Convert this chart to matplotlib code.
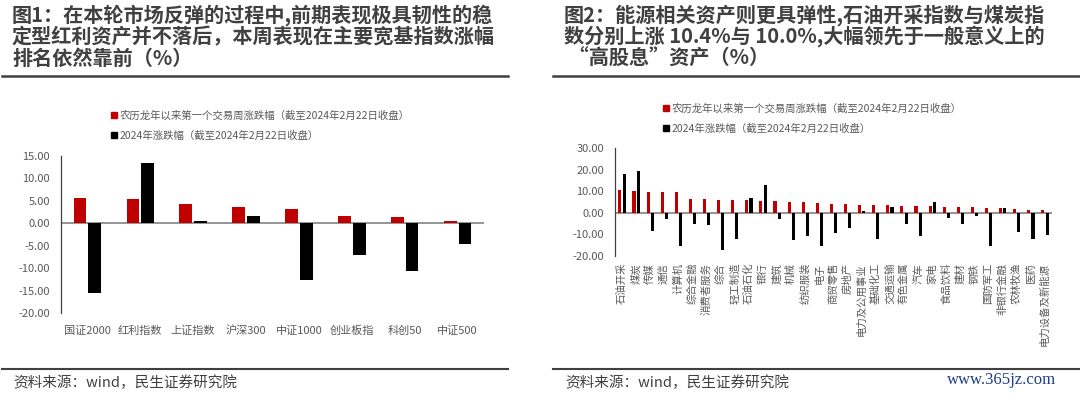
import numpy as np
import matplotlib
matplotlib.use("Agg")
import matplotlib.pyplot as plt
from matplotlib.lines import Line2D
from matplotlib.patches import Patch

plt.rcParams['font.family'] = ['Noto Sans CJK SC', 'DejaVu Sans']

# ---- data ----
left_categories = ["国证2000", "红利指数", "上证指数", "沪深300", "中证1000", "创业板指", "科创50", "中证500"]
left_week = [5.72, 5.42, 4.23, 3.56, 3.12, 1.71, 1.41, 0.52]
left_ytd = [-15.6, 13.36, 0.45, 1.56, -12.55, -7.13, -10.6, -4.68]

right_categories = ["石油开采", "煤炭", "传媒", "通信", "计算机", "综合金融", "消费者服务", "综合",
                    "轻工制造", "石油石化", "银行", "建筑", "机械", "纺织服装", "电子", "商贸零售",
                    "房地产", "电力及公用事业", "基础化工", "交通运输", "有色金属", "汽车", "家电",
                    "食品饮料", "建材", "钢铁", "国防军工", "非银行金融", "农林牧渔", "医药", "电力设备及新能源"]
right_week = [10.4, 10.0, 9.8, 9.6, 9.6, 6.3, 6.2, 5.9, 5.9, 5.9, 5.3, 5.3, 5.1, 4.8, 4.4, 3.9,
              3.9, 3.6, 3.6, 3.4, 3.1, 3.1, 3.1, 2.9, 2.8, 2.6, 2.2, 2.2, 1.7, 1.5, 1.4]
right_ytd = [18.0, 19.2, -8.4, -2.8, -15.3, -5.0, -5.7, -17.0, -12.2, 6.7, 12.7, -2.8, -12.5, -10.8,
             -15.5, -9.3, -7.0, 0.8, -11.9, 2.8, -5.3, -10.8, 5.1, -2.2, -5.3, -1.5, -15.5, 2.2,
             -9.1, -11.9, -10.1]

left_yticks = [-20, -15, -10, -5, 0, 5, 10, 15]
right_yticks = [-20, -10, 0, 10, 20, 30]

legend_labels = ["农历龙年以来第一个交易周涨跌幅（截至2024年2月22日收盘）",
                 "2024年涨跌幅（截至2024年2月22日收盘）"]
title1 = ["图1：在本轮市场反弹的过程中,前期表现极具韧性的稳",
          "定型红利资产并不落后，本周表现在主要宽基指数涨幅",
          "排名依然靠前（%）"]
title2 = ["图2：能源相关资产则更具弹性,石油开采指数与煤炭指",
          "数分别上涨 10.4%与 10.0%,大幅领先于一般意义上的",
          " “高股息”资产（%）"]
source = "资料来源：wind，民生证券研究院"

RED = "#C00000"
BLACK = "#000000"
TXT = "#404040"
TICK = "#595959"

W, H = 1080, 396
fig = plt.figure(figsize=(W / 100, H / 100), dpi=100)


def fx(px):
    return px / W


def fy(py):
    return 1 - py / H


def style_axes(ax, yticks, pad):
    for s in ["top", "right", "bottom"]:
        ax.spines[s].set_visible(False)
    ax.spines["left"].set_color("#404040")
    ax.spines["left"].set_linewidth(0.9)
    ax.axhline(0, color="#8C8C8C", lw=1.3, zorder=1)
    ax.set_yticks(yticks)
    ax.set_yticklabels([f"{v:.2f}" for v in yticks])
    ax.tick_params(axis="y", length=0, pad=8, labelsize=8, labelcolor=TICK)
    ax.tick_params(axis="x", length=0, pad=pad, labelcolor=TICK)


# ---- left chart ----
ax1 = fig.add_axes([fx(61), fy(313), fx(484 - 61), fy(156) - fy(313)])
x1 = np.arange(len(left_categories))
ax1.bar(x1 - 0.14, left_week, width=0.24, color=RED, zorder=2)
ax1.bar(x1 + 0.14, left_ytd, width=0.24, color=BLACK, zorder=2)
ax1.set_xlim(-0.5, len(left_categories) - 0.5)
ax1.set_ylim(-20, 15)
style_axes(ax1, left_yticks, 9)
ax1.set_xticks(x1)
ax1.set_xticklabels(left_categories, fontsize=8)

# ---- right chart ----
ax2 = fig.add_axes([fx(615), fy(256), fx(1052 - 615), fy(148) - fy(256)])
x2 = np.arange(len(right_categories))
ax2.bar(x2 - 0.15, right_week, width=0.22, color=RED, zorder=2)
ax2.bar(x2 + 0.15, right_ytd, width=0.22, color=BLACK, zorder=2)
ax2.set_xlim(-0.5, len(right_categories) - 0.5)
ax2.set_ylim(-20, 30)
style_axes(ax2, right_yticks, 5)
ax2.set_xticks(x2)
ax2.set_xticklabels(right_categories, fontsize=7.5, rotation=90, va="top", ha="center")

# ---- legends ----
handles = [Patch(color=RED), Patch(color=BLACK)]
for xpx, ypx in [(111, 110), (663, 103)]:
    fig.legend(handles, legend_labels, loc="upper left", bbox_to_anchor=(fx(xpx), fy(ypx)),
               frameon=False, fontsize=7.5, handlelength=0.55, handleheight=0.55,
               handletextpad=0.3, labelspacing=0.95, borderaxespad=0, borderpad=0,
               labelcolor=TICK)

# ---- titles ----
for i, line in enumerate(title1):
    fig.text(fx(12), fy(15 + i * 21.5), line, fontsize=14.5, fontweight="bold",
             color=TXT, va="center", ha="left")
for i, line in enumerate(title2):
    fig.text(fx(564), fy(15 + i * 21.5), line, fontsize=14.5, fontweight="bold",
             color=TXT, va="center", ha="left")

fig.add_artist(Line2D([fx(2), fx(508)], [fy(76), fy(76)], color=TXT, lw=1.8))
fig.add_artist(Line2D([fx(553), fx(1080)], [fy(76), fy(76)], color=TXT, lw=1.8))

# ---- footers ----
fig.add_artist(Line2D([fx(2), fx(508)], [fy(369), fy(369)], color=TXT, lw=1.5))
fig.add_artist(Line2D([fx(553), fx(1080)], [fy(369), fy(369)], color=TXT, lw=1.5))
fig.text(fx(13), fy(383), source, fontsize=10.5, color=TXT, va="center", ha="left")
fig.text(fx(565), fy(383), source, fontsize=10.5, color=TXT, va="center", ha="left")
fig.text(fx(1056), fy(380), "www.365jz.com", fontsize=12, color="#1F3C88",
         family="Liberation Serif", va="center", ha="right")

fig.savefig("out.png", dpi=100)
